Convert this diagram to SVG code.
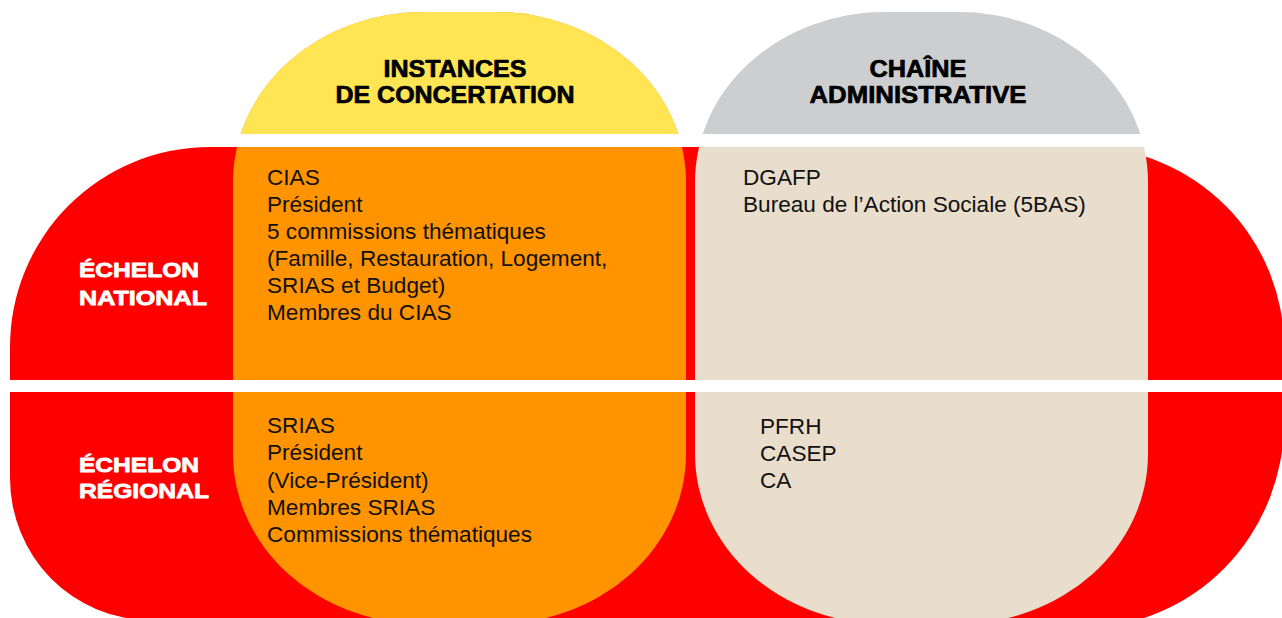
<svg xmlns="http://www.w3.org/2000/svg" width="1282" height="618" viewBox="0 0 1282 618">
  <style>
    .body { font-family: "Liberation Sans", Arial, sans-serif; font-size: 22.6px; fill: #111111; }
    .head { font-family: "Liberation Sans", Arial, sans-serif; font-size: 23.5px; font-weight: bold; fill: #000000; stroke: #000000; stroke-width: 0.7; stroke-linejoin: round; text-anchor: middle; }
    .tier { font-family: "Liberation Sans", Arial, sans-serif; font-size: 21px; font-weight: bold; fill: #ffffff; stroke: #ffffff; stroke-width: 0.8; stroke-linejoin: round; }
    .band { fill: #ffffff; }
  </style>
  <defs>
    <!-- tall pill shape shared by both columns -->
    <rect id="column" x="0" y="12" width="453" height="612" rx="190" ry="170"/>
    <clipPath id="capArea">
      <rect x="0" y="0" width="1282" height="140"/>
    </clipPath>
  </defs>

  <rect width="1282" height="618" fill="#ffffff"/>

  <!-- red backdrop for the two tiers -->
  <g id="tiers-backdrop">
    <path fill="#fe0000" d="M210,147 H1084 A200,200 0 0 1 1284,347 V422 A202,206 0 0 1 1082,628 L150,620 A140,142 0 0 1 10,478 V347 A200,200 0 0 1 210,147 Z"/>
  </g>

  <!-- column: consultative bodies -->
  <g id="col-concertation">
    <use href="#column" x="233" fill="#ff9400"/>
    <g clip-path="url(#capArea)">
      <use href="#column" x="233" fill="#ffe553"/>
    </g>
  </g>

  <!-- column: administrative chain -->
  <g id="col-administrative">
    <use href="#column" x="695" fill="#e9ddcc"/>
    <g clip-path="url(#capArea)">
      <use href="#column" x="695" fill="#cdced0"/>
    </g>
  </g>

  <!-- white separators -->
  <g id="separators">
    <rect class="band" x="0" y="134" width="1282" height="13"/>
    <rect class="band" x="0" y="380" width="1282" height="12"/>
  </g>

  <!-- column headings -->
  <g id="head-concertation">
    <text class="head" x="455" y="77" textLength="143" lengthAdjust="spacingAndGlyphs">INSTANCES</text>
    <text class="head" x="455" y="103" textLength="239" lengthAdjust="spacingAndGlyphs">DE CONCERTATION</text>
  </g>
  <g id="head-administrative">
    <text class="head" x="918" y="77" textLength="97" lengthAdjust="spacingAndGlyphs">CHAÎNE</text>
    <text class="head" x="918" y="103" textLength="217" lengthAdjust="spacingAndGlyphs">ADMINISTRATIVE</text>
  </g>

  <!-- tier labels -->
  <g id="tier-national">
    <text class="tier" x="79" y="277" textLength="120" lengthAdjust="spacingAndGlyphs">ÉCHELON</text>
    <text class="tier" x="79" y="305" textLength="128" lengthAdjust="spacingAndGlyphs">NATIONAL</text>
  </g>
  <g id="tier-regional">
    <text class="tier" x="79" y="472" textLength="120" lengthAdjust="spacingAndGlyphs">ÉCHELON</text>
    <text class="tier" x="79" y="498" textLength="130" lengthAdjust="spacingAndGlyphs">RÉGIONAL</text>
  </g>

  <!-- national / consultative -->
  <g id="cell-national-concertation" class="body">
    <text x="267" y="185">CIAS</text>
    <text x="267" y="212">Président</text>
    <text x="267" y="239">5 commissions thématiques</text>
    <text x="267" y="266">(Famille, Restauration, Logement,</text>
    <text x="267" y="293">SRIAS et Budget)</text>
    <text x="267" y="320">Membres du CIAS</text>
  </g>

  <!-- national / administrative -->
  <g id="cell-national-administrative" class="body">
    <text x="743" y="185">DGAFP</text>
    <text x="743" y="212">Bureau de l’Action Sociale (5BAS)</text>
  </g>

  <!-- regional / consultative -->
  <g id="cell-regional-concertation" class="body">
    <text x="267" y="433">SRIAS</text>
    <text x="267" y="460">Président</text>
    <text x="267" y="488">(Vice-Président)</text>
    <text x="267" y="515">Membres SRIAS</text>
    <text x="267" y="542">Commissions thématiques</text>
  </g>

  <!-- regional / administrative -->
  <g id="cell-regional-administrative" class="body">
    <text x="760" y="434">PFRH</text>
    <text x="760" y="461">CASEP</text>
    <text x="760" y="488">CA</text>
  </g>
</svg>
